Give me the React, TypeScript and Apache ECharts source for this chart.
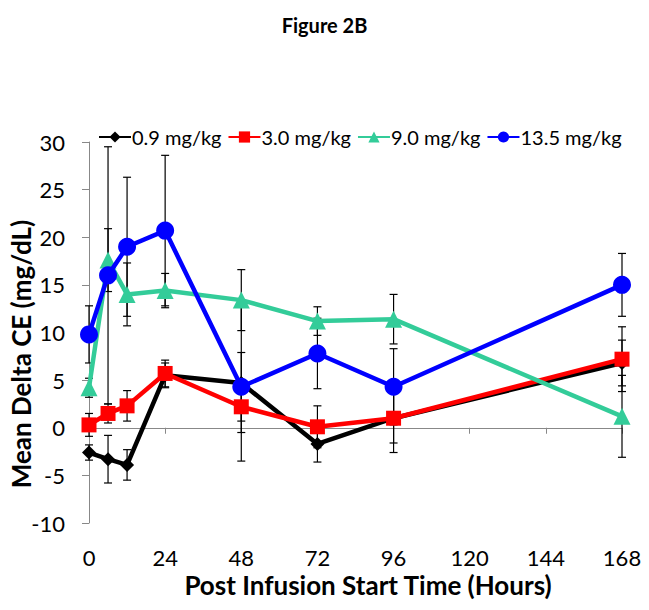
import React, { useEffect, useRef } from "react";
import * as echarts from "echarts";

const times = [0, 6, 12, 24, 48, 72, 96, 168];
const xTicks = [0, 24, 48, 72, 96, 120, 144, 168];
const seriesNames = ["0.9 mg/kg", "3.0 mg/kg", "9.0 mg/kg", "13.5 mg/kg"];
const dose09 = [-2.6, -3.3, -3.9, 5.5, 4.7, -1.7, 1.0, 6.8];
const dose09Err = [0.8, 2.5, 1.6, 1.3, 8.2, 1.9, 2.6, 2.4];
const dose30 = [0.3, 1.5, 2.3, 5.7, 2.2, 0.1, 1.0, 7.2];
const dose30Err = [1.2, 1.0, 1.6, 1.4, 2.7, 2.2, 3.6, 3.4];
const dose90 = [4.2, 17.6, 14.0, 14.4, 13.4, 11.2, 11.4, 1.2];
const dose90Err = [1.0, 3.3, 3.3, 1.8, 3.2, 1.5, 2.6, 4.3];
const dose135 = [9.8, 16.0, 19.0, 20.7, 4.3, 7.8, 4.3, 15.0];
const dose135Err = [3.0, 13.5, 7.3, 7.9, 3.6, 3.7, 4.0, 3.3];

const colors = ["#000000", "#ff0000", "#33cc99", "#0000ff"];
const symbols = ["diamond", "rect", "triangle", "circle"];
const symbolSizes = [14, 15, 17, 18];
const FONT = "Lato";

export default function App() {
  const ref = useRef<HTMLDivElement>(null);
  useEffect(() => {
    document.body.style.margin = "0";
    if (!ref.current) return;
    const chart = echarts.init(ref.current, null, { renderer: "svg" });
    const means = [dose09, dose30, dose90, dose135];
    const errs = [dose09Err, dose30Err, dose90Err, dose135Err];

    const errorSeries = means.map((m, si) => ({
      type: "custom",
      name: "err" + si,
      z: 1,
      silent: true,
      data: times.map((t, i) => [t, m[i] - errs[si][i], m[i] + errs[si][i]]),
      renderItem: (params: any, api: any) => {
        const x = api.value(0);
        const lo = api.coord([x, api.value(1)]);
        const hi = api.coord([x, api.value(2)]);
        const w = 4;
        const style = { stroke: "#000", lineWidth: 1.2 };
        return {
          type: "group",
          children: [
            { type: "line", shape: { x1: lo[0], y1: lo[1], x2: hi[0], y2: hi[1] }, style },
            { type: "line", shape: { x1: hi[0] - w, y1: hi[1], x2: hi[0] + w, y2: hi[1] }, style },
            { type: "line", shape: { x1: lo[0] - w, y1: lo[1], x2: lo[0] + w, y2: lo[1] }, style },
          ],
        };
      },
    }));

    const lineSeries = means.map((m, si) => ({
      type: "line",
      name: seriesNames[si],
      z: 3 + si,
      data: times.map((t, i) => [t, m[i]]),
      symbol: symbols[si],
      symbolSize: symbolSizes[si],
      lineStyle: { color: colors[si], width: 4.5 },
      itemStyle: { color: colors[si] },
    }));

    const axisCommon = {
      type: "value",
      min: 0,
      max: 168,
      interval: 24,
      splitLine: { show: false },
    };

    chart.setOption({
      animation: false,
      backgroundColor: "#ffffff",
      title: {
        text: "Figure 2B",
        left: "center",
        top: 10,
        textStyle: { fontFamily: FONT, fontWeight: "bold", fontSize: 20, color: "#000" },
      },
      legend: {
        data: seriesNames,
        left: 98,
        top: 127,
        padding: 0,
        itemWidth: 32,
        itemHeight: 14,
        itemGap: 6,
        textStyle: { fontFamily: FONT, fontSize: 20, color: "#000", padding: [0, 0, 0, -4] },
      },
      grid: { left: 89, right: 27, top: 142, bottom: 87 },
      xAxis: [
        {
          ...axisCommon,
          axisLine: { show: true, onZero: true, lineStyle: { color: "#888", width: 1 } },
          axisTick: { show: true, length: 6, lineStyle: { color: "#888" } },
          axisLabel: { show: false },
        },
        {
          ...axisCommon,
          position: "bottom",
          axisLine: { show: false, onZero: false },
          axisTick: { show: false },
          axisLabel: {
            show: true,
            margin: 23,
            fontFamily: FONT,
            fontSize: 22,
            color: "#000",
            formatter: (v: number) => (xTicks.includes(v) ? String(v) : ""),
          },
        },
      ],
      yAxis: {
        type: "value",
        min: -10,
        max: 30,
        interval: 5,
        splitLine: { show: false },
        axisLine: { show: true, onZero: false, lineStyle: { color: "#888", width: 1 } },
        axisTick: { show: true, length: 7, lineStyle: { color: "#888" } },
        axisLabel: { margin: 24, fontFamily: FONT, fontSize: 22, color: "#000" },
      },
      graphic: [
        {
          type: "text",
          x: 21,
          y: 354,
          rotation: Math.PI / 2,
          style: {
            text: "Mean Delta CE (mg/dL)",
            fontFamily: FONT,
            fontWeight: "bold",
            fontSize: 26,
            fill: "#000",
            textAlign: "center",
            textVerticalAlign: "middle",
          },
        },
        {
          type: "text",
          x: 368,
          y: 585,
          style: {
            text: "Post Infusion Start Time (Hours)",
            fontFamily: FONT,
            fontWeight: "bold",
            fontSize: 26,
            fill: "#000",
            textAlign: "center",
            textVerticalAlign: "middle",
          },
        },
      ],
      series: [...errorSeries, ...lineSeries],
    });
    return () => chart.dispose();
  }, []);
  return <div ref={ref} style={{ width: 649, height: 610 }} />;
}
